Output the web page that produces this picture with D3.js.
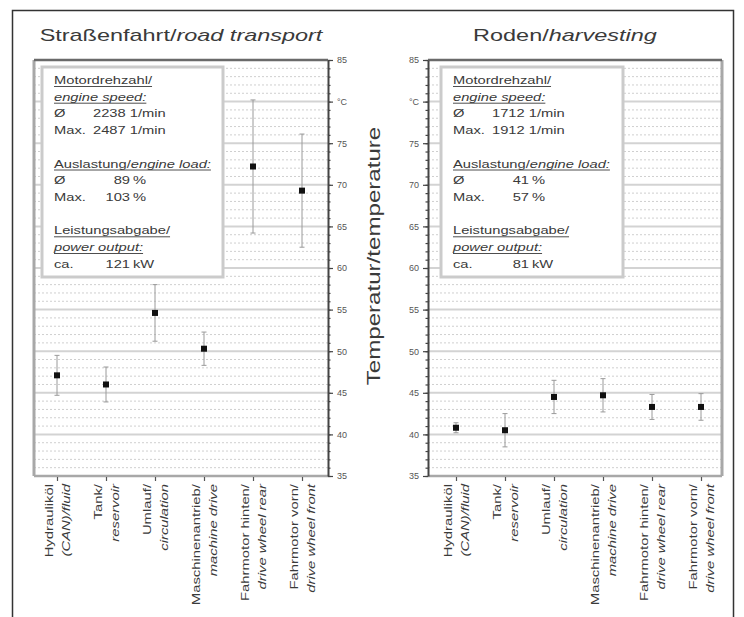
<!DOCTYPE html>
<html>
<head>
<meta charset="utf-8">
<script src="https://cdn.jsdelivr.net/npm/d3@7"></script>
<style>
  body { margin: 0; background: #fff; }
  svg { display: block; }
</style>
</head>
<body>
<div id="chart"></div>
<script>
// categories (German / English line of the rotated labels)
const categoriesDe = ["Hydrauliköl", "Tank/", "Umlauf/", "Maschinenantrieb/", "Fahrmotor hinten/", "Fahrmotor vorn/"];
const categoriesEn = ["(CAN)/fluid", "reservoir", "circulation", "machine drive", "drive wheel rear", "drive wheel front"];

// mean temperature and standard deviation, °C
const roadMean = [47.1, 46.0, 54.6, 50.3, 72.2, 69.3];
const roadSd = [2.4, 2.1, 3.4, 2.0, 8.0, 6.8];
const harvestMean = [40.8, 40.5, 44.5, 44.7, 43.3, 43.3];
const harvestSd = [0.6, 2.0, 2.0, 2.0, 1.5, 1.6];

// y axis ticks
const tickValues = [35, 40, 45, 50, 55, 60, 65, 70, 75, 80, 85];
const tickLabels = ["35", "40", "45", "50", "55", "60", "65", "70", "75", "°C", "85"];

// info box values: [road transport, harvesting]
const engineSpeedAvg = [2238, 1712];
const engineSpeedMax = [2487, 1912];
const engineLoadAvg = [89, 41];
const engineLoadMax = [103, 57];
const powerOutput = [121, 81];

const width = 744, height = 617;
const FONT = "'Liberation Sans', Arial, sans-serif";
const TEXT = "#3a3a3a";

const svg = d3.select("#chart").append("svg")
    .attr("width", width)
    .attr("height", height)
    .style("font-family", FONT);

// outer frame (open at the bottom)
svg.append("path")
    .attr("d", `M12.5,${height} V10.5 H733.5 V${height}`)
    .attr("fill", "none")
    .attr("stroke", "#333")
    .attr("stroke-width", 1.5);

const y = d3.scaleLinear().domain([35, 85]).range([476, 60]);

// text stretched along its reading direction, like the source picture
function stretched(g, x, y0, sx, rot, size) {
    return g.append("text")
        .attr("transform", `translate(${x},${y0})` + (rot ? ` rotate(${rot})` : "") + ` scale(${sx},1)`)
        .attr("x", 0)
        .attr("y", 0)
        .style("font-size", size + "px")
        .attr("fill", TEXT);
}

const panels = [
    {
        titleDe: "Straßenfahrt/", titleEn: "road transport", titleX: 181,
        x0: 34, x1: 328, padL: 23, padR: 26, axis: "right",
        mean: roadMean, sd: roadSd, box: { x: 42, y: 67, w: 181, h: 210 }, idx: 0
    },
    {
        titleDe: "Roden/", titleEn: "harvesting", titleX: 565,
        x0: 428, x1: 722, padL: 28, padR: 21, axis: "left",
        mean: harvestMean, sd: harvestSd, box: { x: 441, y: 67, w: 182, h: 210 }, idx: 1
    }
];

panels.forEach(p => {
    const g = svg.append("g");
    const data = categoriesDe.map((c, i) => ({ de: c, en: categoriesEn[i], mean: p.mean[i], sd: p.sd[i] }));
    const x = d3.scalePoint()
        .domain(categoriesDe)
        .range([p.x0 + p.padL, p.x1 - p.padR]);

    // title
    const t = stretched(g, p.titleX, 41, 1.38, 0, 17).attr("text-anchor", "middle");
    t.append("tspan").text(p.titleDe);
    t.append("tspan").style("font-style", "italic").text(p.titleEn);

    // minor dotted grid
    g.selectAll(".minor")
        .data(d3.range(36, 85).filter(v => v % 5 !== 0))
        .enter().append("line")
        .attr("x1", p.x0).attr("x2", p.x1)
        .attr("y1", d => y(d)).attr("y2", d => y(d))
        .attr("stroke", "#cfcfcf")
        .attr("stroke-width", 1)
        .attr("stroke-dasharray", "2,2");

    // major grid
    g.selectAll(".major")
        .data(tickValues.filter(v => v > 35 && v < 85))
        .enter().append("line")
        .attr("x1", p.x0).attr("x2", p.x1)
        .attr("y1", d => y(d)).attr("y2", d => y(d))
        .attr("stroke", "#d3d3d3")
        .attr("stroke-width", 2);

    // info box
    const b = p.box;
    g.append("rect")
        .attr("x", b.x).attr("y", b.y)
        .attr("width", b.w).attr("height", b.h)
        .attr("fill", "#fff")
        .attr("stroke", "#cbcbcb")
        .attr("stroke-width", 3);

    const bsx = 1.28, bfs = 11.5, lh = 16.7;
    const lx = b.x + 12;
    const base = n => b.y + 17 + n * lh;
    function header(n, de, en) {
        const tx = stretched(g, lx, base(n), bsx, 0, bfs);
        tx.append("tspan").text(de);
        if (en) tx.append("tspan").style("font-style", "italic").text(en);
        const len = tx.node().getComputedTextLength() * bsx;
        g.append("line")
            .attr("x1", lx).attr("x2", lx + len)
            .attr("y1", base(n) + 2.5).attr("y2", base(n) + 2.5)
            .attr("stroke", TEXT).attr("stroke-width", 0.9);
    }
    function row(n, label, num, unit, numX, right) {
        stretched(g, lx, base(n), bsx, 0, bfs).text(label);
        stretched(g, numX, base(n), bsx, 0, bfs)
            .attr("text-anchor", right ? "end" : "start")
            .text(right ? num : num + " " + unit);
        if (right) stretched(g, numX + 3, base(n), bsx, 0, bfs).text(unit);
    }
    header(0, "Motordrehzahl/");
    header(1, "", "engine speed:");
    row(2, "Ø", engineSpeedAvg[p.idx], "1/min", b.x + 51, false);
    row(3, "Max.", engineSpeedMax[p.idx], "1/min", b.x + 51, false);
    header(5, "Auslastung/", "engine load:");
    row(6, "Ø", engineLoadAvg[p.idx], "%", b.x + 88, true);
    row(7, "Max.", engineLoadMax[p.idx], "%", b.x + 88, true);
    header(9, "Leistungsabgabe/");
    header(10, "", "power output:");
    row(11, "ca.", powerOutput[p.idx], "kW", b.x + 88, true);

    // error bars
    const eb = g.selectAll(".err").data(data).enter().append("g")
        .attr("stroke", "#9a9a9a").attr("stroke-width", 1);
    eb.append("line")
        .attr("x1", d => x(d.de)).attr("x2", d => x(d.de))
        .attr("y1", d => y(d.mean + d.sd)).attr("y2", d => y(d.mean - d.sd));
    eb.append("line")
        .attr("x1", d => x(d.de) - 2.5).attr("x2", d => x(d.de) + 2.5)
        .attr("y1", d => y(d.mean + d.sd)).attr("y2", d => y(d.mean + d.sd));
    eb.append("line")
        .attr("x1", d => x(d.de) - 2.5).attr("x2", d => x(d.de) + 2.5)
        .attr("y1", d => y(d.mean - d.sd)).attr("y2", d => y(d.mean - d.sd));

    // markers
    g.selectAll(".pt").data(data).enter().append("rect")
        .attr("x", d => x(d.de) - 3)
        .attr("y", d => y(d.mean) - 3)
        .attr("width", 6).attr("height", 6)
        .attr("fill", "#111");

    // plot frame
    const frameSide = p.axis === "right" ? p.x0 : p.x1;
    g.append("line")
        .attr("x1", frameSide).attr("x2", frameSide)
        .attr("y1", y(85)).attr("y2", y(35))
        .attr("stroke", "#a8a8a8").attr("stroke-width", 3);
    g.append("line")
        .attr("x1", p.x0).attr("x2", p.x1)
        .attr("y1", y(35)).attr("y2", y(35))
        .attr("stroke", "#a8a8a8").attr("stroke-width", 2.5);
    g.append("line")
        .attr("x1", p.x0).attr("x2", p.x1)
        .attr("y1", y(85)).attr("y2", y(85))
        .attr("stroke", "#6a6a6a").attr("stroke-width", 2.5);

    // y axis with minor ticks
    const axisX = p.axis === "right" ? p.x1 : p.x0;
    const mk = p.axis === "right" ? d3.axisRight : d3.axisLeft;
    const minorAxis = g.append("g")
        .attr("transform", `translate(${axisX},0)`)
        .call(mk(y).tickValues(d3.range(35, 86)).tickSize(2.5).tickSizeOuter(0).tickFormat(""));
    minorAxis.select(".domain").attr("stroke", "#444").attr("stroke-width", 2);
    minorAxis.selectAll(".tick line").attr("stroke", "#444").attr("stroke-width", 1.2);

    const majorAxis = g.append("g")
        .attr("transform", `translate(${axisX},0)`)
        .call(mk(y).tickValues(tickValues).tickSize(5).tickPadding(4)
            .tickFormat((d, i) => tickLabels[i]));
    majorAxis.select(".domain").remove();
    majorAxis.selectAll(".tick line").attr("stroke", "#444").attr("stroke-width", 1.2);
    majorAxis.selectAll(".tick text")
        .style("font-family", FONT)
        .style("font-size", "9px")
        .attr("fill", "#555");

    // x ticks
    const xAxis = g.append("g")
        .attr("transform", `translate(0,${y(35) + 1})`)
        .call(d3.axisBottom(x).tickSize(4).tickSizeOuter(0).tickFormat(""));
    xAxis.select(".domain").remove();
    xAxis.selectAll(".tick line").attr("stroke", "#555").attr("stroke-width", 1.2);

    // rotated category labels
    data.forEach(d => {
        stretched(g, x(d.de) - 4, 484, 1.35, -90, 11)
            .attr("text-anchor", "end")
            .text(d.de);
        stretched(g, x(d.de) + 13, 484, 1.35, -90, 11)
            .attr("text-anchor", "end")
            .style("font-style", "italic")
            .text(d.en);
    });
});

// shared y axis title
stretched(svg, 380, 256, 1.34, -90, 18)
    .attr("text-anchor", "middle")
    .text("Temperatur/temperature");
</script>
</body>
</html>
